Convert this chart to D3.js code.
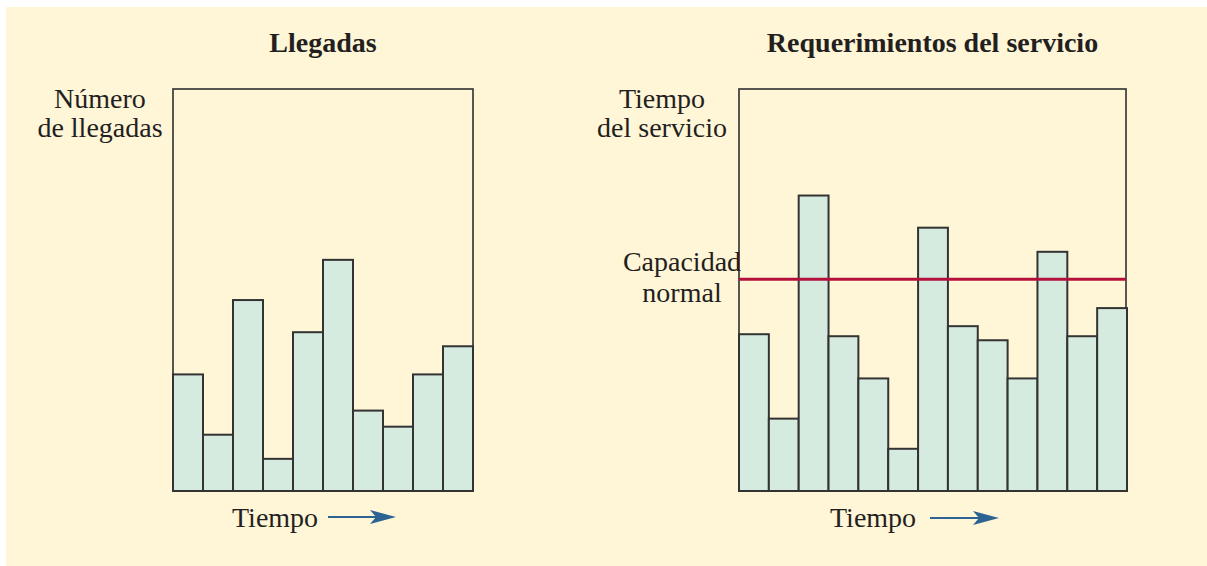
<!DOCTYPE html>
<html>
<head>
<meta charset="utf-8">
<script src="https://cdn.jsdelivr.net/npm/d3@7"></script>
<style>
    html, body { margin: 0; padding: 0; background: #ffffff; }
    svg { display: block; }
</style>
</head>
<body>
<svg id="chart" width="1207" height="566"></svg>
<script>
// Chart data
var arrivals = [29, 14, 47.5, 8, 39.5, 57.5, 20, 16, 29, 36];
var serviceTimes = [39, 18, 73.5, 38.5, 28, 10.5, 65.5, 41, 37.5, 28, 59.5, 38.5, 45.5];
var normalCapacity = 52.7;

var leftTitle = "Llegadas";
var rightTitle = "Requerimientos del servicio";
var leftAxisLabel = ["Número", "de llegadas"];
var rightAxisLabel = ["Tiempo", "del servicio"];
var capacityLabel = ["Capacidad", "normal"];
var timeLabel = "Tiempo";

var svg = d3.select("#chart");
var fontFamily = "Liberation Serif";
var textColor = "#231f20";
var arrowColor = "#2d6393";

// Cream background panel
svg.append("rect")
    .attr("x", 6).attr("y", 7)
    .attr("width", 1201).attr("height", 559)
    .attr("fill", "#fff5d7");

// Draw one panel: box, bars, labels
function drawPanel(cfg)
{
    var x = d3.scaleBand()
        .domain(d3.range(cfg.values.length))
        .range([cfg.left, cfg.barsRight])
        .paddingInner(0).paddingOuter(0);

    var y = d3.scaleLinear()
        .domain([0, 100])
        .range([cfg.bottom, cfg.top]);

    var g = svg.append("g");

    // Frame
    g.append("rect")
        .attr("x", cfg.left).attr("y", cfg.top)
        .attr("width", cfg.right - cfg.left)
        .attr("height", cfg.bottom - cfg.top)
        .attr("fill", "none")
        .attr("stroke", "#3a3a3a")
        .attr("stroke-width", 1.7);

    // Bars
    g.selectAll("rect.bar")
        .data(cfg.values)
        .enter().append("rect")
        .attr("class", "bar")
        .attr("x", function(d, i) { return x(i); })
        .attr("y", function(d) { return y(d); })
        .attr("width", x.bandwidth())
        .attr("height", function(d) { return y(0) - y(d); })
        .attr("fill", "#d6ebdf")
        .attr("stroke", "#333333")
        .attr("stroke-width", 2);

    // Capacity line
    if (cfg.capacity !== undefined)
    {
        g.append("line")
            .attr("x1", cfg.left).attr("x2", cfg.right)
            .attr("y1", y(cfg.capacity)).attr("y2", y(cfg.capacity))
            .attr("stroke", "#b3113c")
            .attr("stroke-width", 3);

        var cap = g.append("text")
            .attr("x", cfg.capX)
            .attr("y", y(cfg.capacity) - 8)
            .attr("text-anchor", "middle")
            .attr("font-family", fontFamily)
            .attr("font-size", 28)
            .attr("fill", textColor);
        cap.selectAll("tspan")
            .data(capacityLabel)
            .enter().append("tspan")
            .attr("x", cfg.capX)
            .attr("dy", function(d, i) { return i === 0 ? 0 : 31; })
            .text(function(d) { return d; });
    }

    // Title
    g.append("text")
        .attr("x", (cfg.left + cfg.right) / 2)
        .attr("y", 52)
        .attr("text-anchor", "middle")
        .attr("font-family", fontFamily)
        .attr("font-weight", "bold")
        .attr("font-size", 28)
        .attr("fill", textColor)
        .text(cfg.title);

    // Axis label (two lines)
    var lab = g.append("text")
        .attr("x", cfg.labelX)
        .attr("y", 108)
        .attr("text-anchor", "middle")
        .attr("font-family", fontFamily)
        .attr("font-size", 28)
        .attr("fill", textColor);
    lab.selectAll("tspan")
        .data(cfg.axisLabel)
        .enter().append("tspan")
        .attr("x", cfg.labelX)
        .attr("dy", function(d, i) { return i === 0 ? 0 : 29; })
        .text(function(d) { return d; });

    // Time label and arrow
    g.append("text")
        .attr("x", cfg.timeX)
        .attr("y", 527)
        .attr("font-family", fontFamily)
        .attr("font-size", 28)
        .attr("fill", textColor)
        .text(timeLabel);

    g.append("line")
        .attr("x1", cfg.arrowX1).attr("x2", cfg.arrowX2 - 18)
        .attr("y1", cfg.arrowY).attr("y2", cfg.arrowY)
        .attr("stroke", arrowColor)
        .attr("stroke-width", 2.2);

    // Arrow head
    var ax = cfg.arrowX2, ay = cfg.arrowY;
    g.append("path")
        .attr("d", "M" + (ax - 26) + "," + (ay - 7) +
                   " L" + ax + "," + ay +
                   " L" + (ax - 26) + "," + (ay + 7) +
                   " L" + (ax - 20) + "," + ay + " Z")
        .attr("fill", arrowColor);
}

drawPanel({
    values: arrivals,
    title: leftTitle,
    axisLabel: leftAxisLabel,
    left: 173, right: 473, barsRight: 473,
    top: 89, bottom: 491,
    labelX: 100,
    timeX: 232, arrowX1: 328, arrowX2: 396, arrowY: 517
});

drawPanel({
    values: serviceTimes,
    title: rightTitle,
    axisLabel: rightAxisLabel,
    capacity: normalCapacity,
    capX: 682,
    left: 739, right: 1126, barsRight: 1127,
    top: 89, bottom: 491,
    labelX: 662,
    timeX: 830, arrowX1: 930, arrowX2: 999, arrowY: 518
});
</script>
</body>
</html>
